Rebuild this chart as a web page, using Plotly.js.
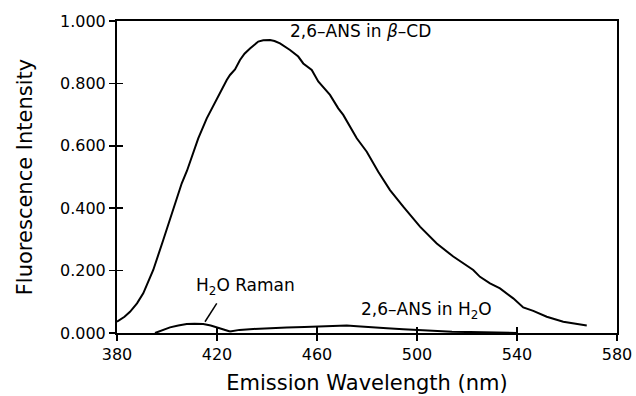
<!DOCTYPE html>
<html>
<head>
<meta charset="utf-8">
<script src="https://cdn.plot.ly/plotly-3.0.1.min.js"></script>
<style>html,body{margin:0;padding:0;background:#fff;}#chart{width:636px;height:396px;}</style>
</head>
<body>
<div id="chart"></div>
<script>
// 2,6-ANS in beta-CD emission spectrum
const wlCD = [380.0, 383.0, 385.2, 388.0, 390.5, 394.5, 398.5, 402.5, 405.9, 408.0, 412.5, 415.9, 419.9, 423.9, 425.2, 427.2, 429.2, 431.0, 433.2, 436.5, 438.5, 441.2, 443.0, 445.2, 449.2, 452.5, 454.5, 457.9, 460.5, 465.2, 468.5, 470.5, 475.9, 479.9, 484.5, 489.2, 494.5, 501.2, 507.9, 514.5, 522.5, 525.2, 529.2, 533.2, 538.5, 542.5, 546.5, 551.9, 558.5, 567.9];
const intCD = [0.036, 0.052, 0.068, 0.095, 0.127, 0.202, 0.298, 0.394, 0.480, 0.520, 0.624, 0.688, 0.752, 0.811, 0.827, 0.845, 0.875, 0.895, 0.912, 0.934, 0.938, 0.939, 0.936, 0.928, 0.907, 0.886, 0.864, 0.843, 0.806, 0.763, 0.720, 0.699, 0.624, 0.581, 0.517, 0.458, 0.405, 0.341, 0.287, 0.245, 0.202, 0.180, 0.159, 0.143, 0.111, 0.082, 0.071, 0.052, 0.036, 0.024];

// Water Raman band
const wlRaman = [395.2, 398.0, 401.2, 404.5, 407.9, 411.0, 414.5, 417.5, 419.9, 422.5, 425.2];
const intRaman = [0.000, 0.009, 0.018, 0.024, 0.029, 0.030, 0.029, 0.024, 0.018, 0.010, 0.005];

// 2,6-ANS in water
const wlH2O = [425.2, 429.0, 434.5, 441.0, 447.9, 455.0, 461.2, 466.0, 471.9, 476.0, 481.2, 488.0, 494.5, 501.0, 507.9, 514.0, 521.2, 528.0, 534.5, 540.0];
const intH2O = [0.005, 0.010, 0.013, 0.016, 0.018, 0.019, 0.020, 0.022, 0.024, 0.022, 0.018, 0.015, 0.012, 0.009, 0.006, 0.004, 0.003, 0.002, 0.001, 0.000];

// Pointer from label to Raman band
const pointerX = [419.9, 415.2];
const pointerY = [0.095, 0.036];

// Axis ticks
const xTicks = [380, 420, 460, 500, 540, 580];
const yTicks = [0, 0.2, 0.4, 0.6, 0.8, 1.0];

// Curve labels
const labelText = ['2,6\u2013ANS in <i>\u03b2</i>\u2013CD', 'H<sub>2</sub>O Raman', '2,6\u2013ANS in H<sub>2</sub>O'];
const labelX = [477.4, 431.5, 503.6];
const labelY = [0.968, 0.150, 0.072];

const FONT = 'DejaVu Sans';
const lineStyle = {color: '#000', width: 2};

const traces = [
  {x: wlCD, y: intCD, type: 'scatter', mode: 'lines', line: lineStyle, hoverinfo: 'skip', showlegend: false},
  {x: wlRaman, y: intRaman, type: 'scatter', mode: 'lines', line: lineStyle, hoverinfo: 'skip', showlegend: false, xaxis: 'x2', yaxis: 'y'},
  {x: wlH2O, y: intH2O, type: 'scatter', mode: 'lines', line: lineStyle, hoverinfo: 'skip', showlegend: false, xaxis: 'x', yaxis: 'y2'},
  {x: pointerX, y: pointerY, type: 'scatter', mode: 'lines', line: {color: '#000', width: 1.5}, hoverinfo: 'skip', showlegend: false}
];

const annotations = labelText.map((t, i) => ({
  text: t, x: labelX[i], y: labelY[i], xref: 'x', yref: 'y',
  showarrow: false, xanchor: 'center', yanchor: 'middle',
  font: {family: FONT, size: 17, color: '#000'}
}));

const layout = {
  width: 636, height: 396,
  margin: {l: 117, r: 19, t: 21, b: 63},
  paper_bgcolor: '#fff', plot_bgcolor: '#fff',
  font: {family: FONT, color: '#000'},
  xaxis: {
    range: [380, 580], tickvals: xTicks, ticktext: xTicks.map(String),
    ticks: 'outside', ticklen: 6, tickwidth: 1.5, tickcolor: '#000',
    showline: true, linewidth: 2, linecolor: '#000', mirror: true,
    showgrid: false, zeroline: false,
    tickfont: {family: FONT, size: 16, color: '#000'},
    title: {text: 'Emission Wavelength (nm)', font: {family: FONT, size: 21, color: '#000'}, standoff: 12}
  },
  yaxis: {
    range: [0, 1.0], tickvals: yTicks, ticktext: yTicks.map(v => v.toFixed(3)),
    ticks: 'outside', ticklen: 6, tickwidth: 1.5, tickcolor: '#000',
    showline: true, linewidth: 2, linecolor: '#000', mirror: true,
    showgrid: false, zeroline: false,
    tickfont: {family: FONT, size: 16, color: '#000'},
    title: {text: 'Fluorescence Intensity', font: {family: FONT, size: 21, color: '#000'}, standoff: 22}
  },
  xaxis2: {
    range: [380, 580], tickvals: xTicks, overlaying: 'x', anchor: 'y', side: 'bottom',
    ticks: 'inside', ticklen: 6, tickwidth: 1.5, tickcolor: '#000',
    showticklabels: false, showline: false, showgrid: false, zeroline: false
  },
  yaxis2: {
    range: [0, 1.0], tickvals: yTicks, overlaying: 'y', anchor: 'x', side: 'left',
    ticks: 'inside', ticklen: 6, tickwidth: 1.5, tickcolor: '#000',
    showticklabels: false, showline: false, showgrid: false, zeroline: false
  },
  annotations: annotations,
  showlegend: false
};

Plotly.newPlot('chart', traces, layout, {staticPlot: true, displayModeBar: false});
</script>
</body>
</html>
